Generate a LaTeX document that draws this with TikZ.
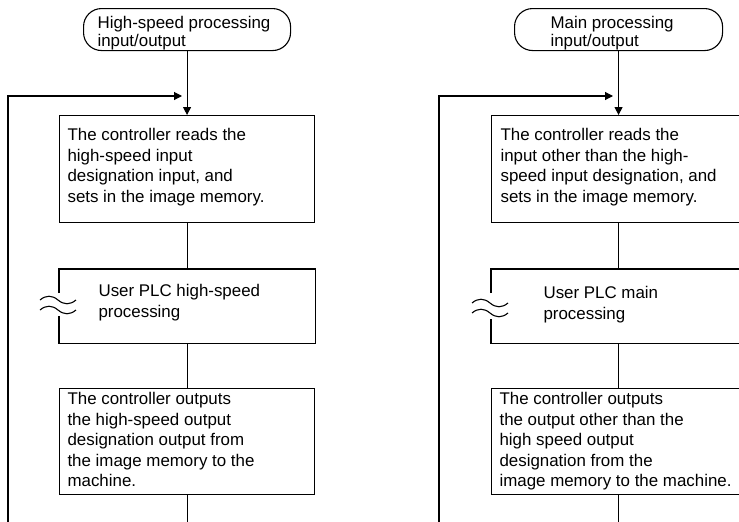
\documentclass[tikz,border=0pt]{standalone}
\usepackage{fontspec}
\setmainfont{Liberation Sans}
\usetikzlibrary{arrows.meta,calc}
\begin{document}
\begin{tikzpicture}[x=1pt,y=-1pt,line width=1.1pt,
  tip/.style={-{Triangle[length=8pt,width=8pt]}},
  term/.style={draw,rectangle,rounded corners=18pt,anchor=north west,inner sep=0pt,minimum height=42pt},
  box/.style={draw,rectangle,anchor=north west,inner sep=0pt},
  hidden/.style={rectangle,anchor=north west,inner sep=0pt},
  txt/.style={anchor=north west,inner sep=0pt,align=left,font=\fontsize{16.9}{20.5}\selectfont},
  ttxt/.style={anchor=north west,inner sep=0pt,align=left,font=\fontsize{16.9}{18}\selectfont}
]
\path[use as bounding box,clip] (0,0) rectangle (739,522);

% ---------- left column ----------
\node[term,minimum width=207pt] (lt) at (83,8) {};
\node[box,minimum width=255pt,minimum height=107pt] (l1) at (59,115) {};
\node[hidden,minimum width=255pt,minimum height=73pt] (l2) at (59,269) {};
\node[box,minimum width=255pt,minimum height=106pt] (l3) at (59,388) {};
\draw ($(l2.north west)+(0,24)$) -- (l2.north west) -- (l2.north east) -- (l2.south east) -- (l2.south west) -- ($(l2.south west)+(0,-27)$);
\draw (40,300) .. controls (46,295) and (52,295) .. (58,300) .. controls (64,305) and (70,305) .. (76,300);
\draw (40,310) .. controls (46,305) and (52,305) .. (58,310) .. controls (64,315) and (70,315) .. (76,310);

\node[ttxt] (ltt) at (97,15.4) {\strut High-speed processing\\input/output};
\node[txt] (l1t) at (67,125.65) {\strut The controller reads the\\high-speed input\\designation input, and\\sets in the image memory.};
\node[txt] (l2t) at (98,281.65) {\strut User PLC high-speed\\processing};
\node[txt] (l3t) at (67,389.65) {\strut The controller outputs\\the high-speed output\\designation output from\\the image memory to the\\machine.};

\coordinate (lout) at (l3.south |- 0,530);
\coordinate (lloop) at (8,530);
\coordinate (larr) at (182,96);
\draw[tip] (lt.south) -- (l1.north);
\draw (l1.south) -- (l2.north);
\draw (l2.south) -- (l3.north);
\draw (l3.south) -- (lout);
\draw[tip] (lloop) |- (larr);

% ---------- right column ----------
\node[term,minimum width=208pt] (rt) at (514,8) {};
\node[box,minimum width=260pt,minimum height=107pt] (r1) at (491,115) {};
\node[hidden,minimum width=260pt,minimum height=73pt] (r2) at (491,269) {};
\node[box,minimum width=260pt,minimum height=106pt] (r3) at (491,388) {};
\draw ($(r2.north west)+(0,24)$) -- (r2.north west) -- (r2.north east) -- (r2.south east) -- (r2.south west) -- ($(r2.south west)+(0,-24)$);
\draw (472,303) .. controls (478,298) and (484,298) .. (490,303) .. controls (496,308) and (502,308) .. (508,303);
\draw (472,313) .. controls (478,308) and (484,308) .. (490,313) .. controls (496,318) and (502,318) .. (508,313);

\node[ttxt] (rtt) at (550,15.4) {\strut Main processing\\input/output};
\node[txt] (r1t) at (500,125.65) {\strut The controller reads the\\input other than the high-\\speed input designation, and\\sets in the image memory.};
\node[txt] (r2t) at (543,283.65) {\strut User PLC main\\processing};
\node[txt] (r3t) at (499,389.65) {\strut The controller outputs\\the output other than the\\high speed output\\designation from the\\image memory to the machine.};

\coordinate (r1n) at (rt.south |- r1.north);
\coordinate (r1s) at (rt.south |- r1.south);
\coordinate (r2n) at (rt.south |- r2.north);
\coordinate (r2s) at (rt.south |- r2.south);
\coordinate (r3n) at (rt.south |- r3.north);
\coordinate (r3s) at (rt.south |- r3.south);
\coordinate (rout) at (rt.south |- 0,530);
\coordinate (rloop) at (439,530);
\coordinate (rarr) at (613,96);
\draw[tip] (rt.south) -- (r1n);
\draw (r1s) -- (r2n);
\draw (r2s) -- (r3n);
\draw (r3s) -- (rout);
\draw[tip] (rloop) |- (rarr);
\end{tikzpicture}
\end{document}
